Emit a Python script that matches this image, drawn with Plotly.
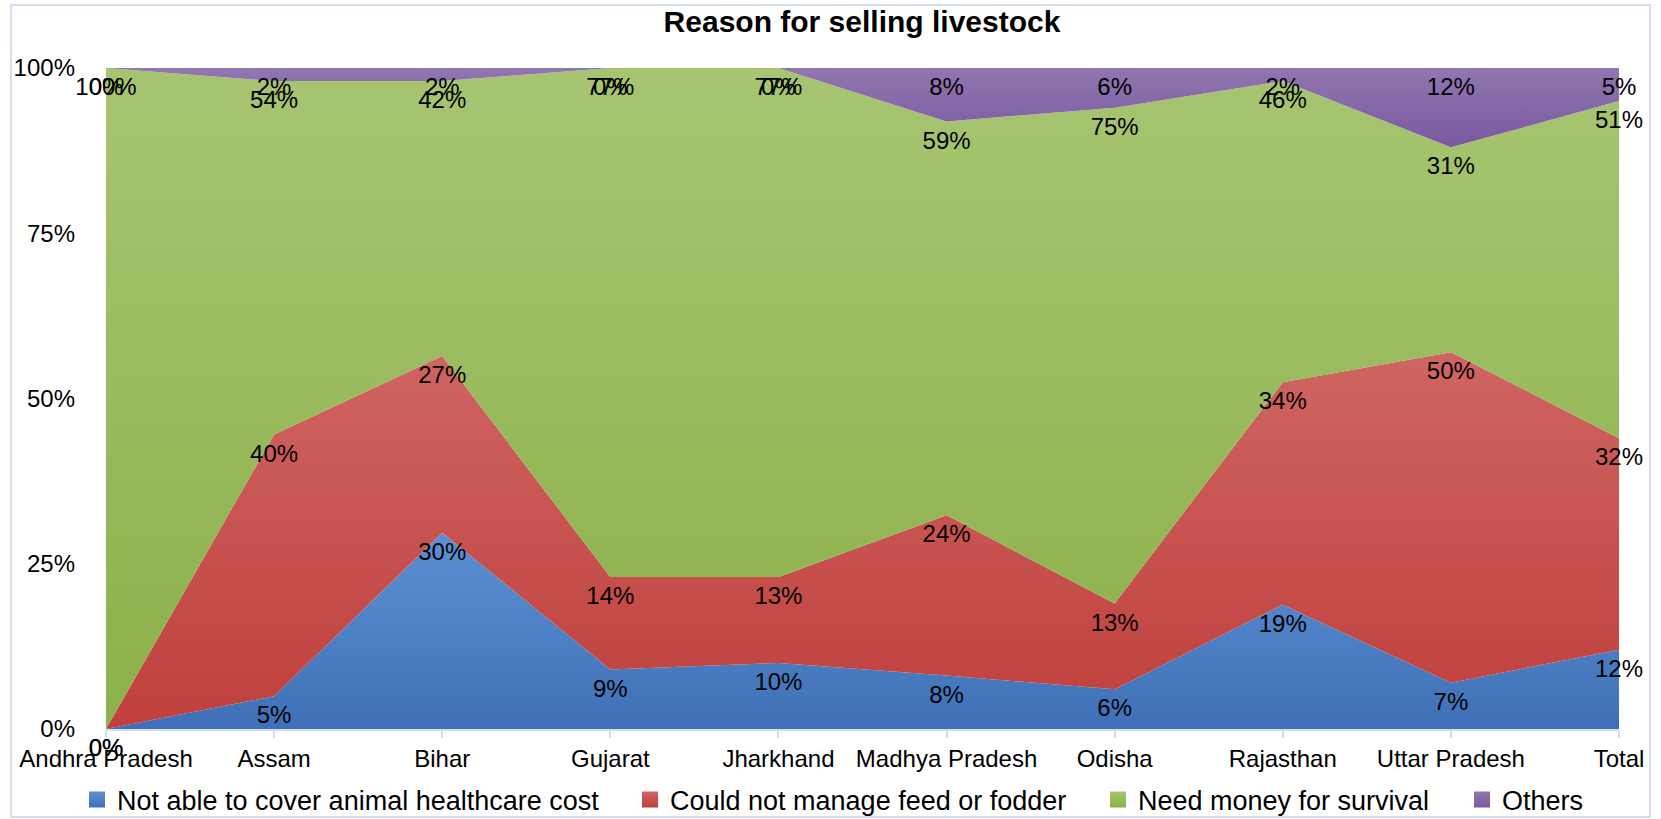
import plotly.graph_objects as go

categories = ["Andhra Pradesh", "Assam", "Bihar", "Gujarat", "Jharkhand",
              "Madhya Pradesh", "Odisha", "Rajasthan", "Uttar Pradesh", "Total"]
healthcare = [0, 5, 30, 9, 10, 8, 6, 19, 7, 12]
fodder = [0, 40, 27, 14, 13, 24, 13, 34, 50, 32]
survival = [100, 54, 42, 77, 77, 59, 75, 46, 31, 51]
others = [0, 2, 2, 0, 0, 8, 6, 2, 12, 5]
y_ticks = [0, 25, 50, 75, 100]

series = [
    ("Not able to cover animal healthcare cost", healthcare, "#3f70b7", "#5c90d2"),
    ("Could not manage feed or fodder", fodder, "#bf3f3c", "#cf6562"),
    ("Need money for survival", survival, "#8cb04a", "#a7c571"),
    ("Others", others, "#7a58a0", "#9077b0"),
]

FONT = "Liberation Sans, Arial, sans-serif"
fig = go.Figure()

for name, vals, bottom, top in series:
    fig.add_trace(go.Scatter(
        x=categories, y=vals, name=name, stackgroup="one", groupnorm="percent",
        mode="lines+markers+text", line=dict(width=0, color=bottom),
        marker=dict(size=13, color="rgba(0,0,0,0)"),
        fillcolor=bottom,
        fillgradient=dict(type="vertical", colorscale=[[0, bottom], [1, top]]),
        text=[f"{v}%" for v in vals], textposition="bottom center",
        textfont=dict(size=24, color="black", family=FONT),
        cliponaxis=False, showlegend=False, hoverinfo="skip",
    ))

# legend entries (one legend per entry, positioned like the original)
legend_px = [97, 650, 1118, 1482]
leg_names = ["legend", "legend2", "legend3", "legend4"]
for (name, vals, bottom, top), lname in zip(series, leg_names):
    fig.add_trace(go.Scatter(
        x=[None], y=[None], mode="markers", name=name, legend=lname,
        marker=dict(symbol="square", size=16, color=top,
                    gradient=dict(type="vertical", color=bottom)),
        showlegend=True,
    ))

plot_l, plot_r = 106, 1619
layout_leg = {}
for px, lname in zip(legend_px, leg_names):
    layout_leg[lname] = dict(
        orientation="h", x=(px - 20) / 1661, xref="container", xanchor="left",
        y=1 - 800 / 819, yref="container", yanchor="middle", bgcolor="rgba(0,0,0,0)",
        font=dict(size=27, color="black", family=FONT),
    )

fig.update_layout(
    width=1661, height=819,
    margin=dict(l=106, r=42, t=68, b=90, autoexpand=False),
    paper_bgcolor="white", plot_bgcolor="white",
    title=dict(text="<b>Reason for selling livestock</b>", x=862 / 1661, xanchor="center",
               y=1 - 21 / 819, yanchor="middle",
               font=dict(size=30, color="black", family=FONT)),
    font=dict(family=FONT, color="black"),
    xaxis=dict(type="category", range=[0, 9], showgrid=False, zeroline=False,
               showline=True, linecolor="#d5deec", linewidth=1.5,
               ticks="outside", ticklen=7, tickcolor="#d5deec", tickwidth=1.5,
               tickfont=dict(size=24, color="black", family=FONT),
               ticklabelstandoff=0),
    yaxis=dict(range=[0, 100], tickvals=y_ticks, ticktext=[f"{t}%" for t in y_ticks],
               showgrid=True, gridcolor="#dbe4f2", zeroline=False, showline=False,
               tickfont=dict(size=24, color="black", family=FONT),
               ticklabelstandoff=30),
    shapes=[dict(type="rect", xref="paper", yref="paper",
                 x0=(11 - plot_l) / (plot_r - plot_l), x1=(1650 - plot_l) / (plot_r - plot_l),
                 y0=(729 - 817) / 661, y1=(729 - 5) / 661,
                 line=dict(color="#d3def0", width=2), layer="below")],
    **layout_leg,
)

fig.write_html("out.html", config={"displayModeBar": False},
               post_script="document.body.style.margin='0';document.body.style.overflow='hidden';")
